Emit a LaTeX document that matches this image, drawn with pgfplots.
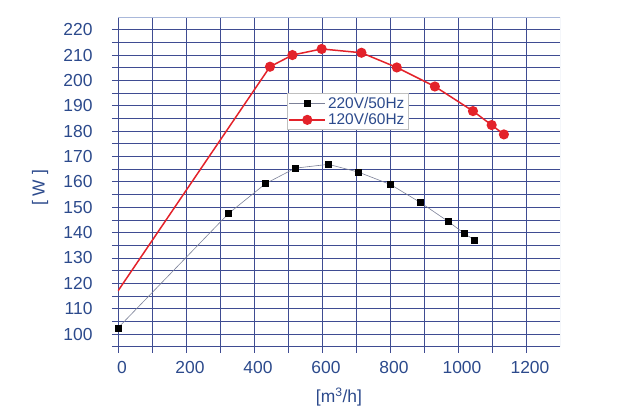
\documentclass[border=0pt]{standalone}
\usepackage{fontspec}
\setmainfont{Liberation Sans}
\usepackage{pgfplots}
\pgfplotsset{compat=1.18}
\definecolor{gridblue}{HTML}{3F4C92}
\definecolor{labelblue}{HTML}{2C4A8C}
\definecolor{curvered}{HTML}{E3222A}
\definecolor{curvegray}{HTML}{7C8198}
\definecolor{framelight}{HTML}{A9B8DA}

\begin{document}
\begin{tikzpicture}
\begin{axis}[
    scale only axis,
    width=442bp, height=329.7bp,
    xmin=0, xmax=1300, ymin=95, ymax=225,
    xtick={0,200,...,1200}, minor xtick={100,300,...,1100},
    ytick={100,110,...,220}, minor ytick={95,105,...,215},
    xtick pos=bottom, ytick pos=left,
    grid=both,
    major grid style={gridblue, line width=0.7bp},
    minor grid style={gridblue, line width=0.7bp},
    tick style={gridblue, line width=0.7bp},
    major tick length=6bp, minor tick length=6bp,
    tick align=outside,
    axis line style={draw=none},
    /pgf/number format/assume math mode=true,
    /pgf/number format/1000 sep={},
    ticklabel style={font=\fontsize{17.5}{18}\selectfont, text=labelblue},
    xticklabel style={xshift=4bp, yshift=-5bp},
    yticklabel style={xshift=-16bp},
    xlabel={[m\textsuperscript{3}/h]},
    ylabel={[ W ]},
    label style={font=\fontsize{17.5}{18}\selectfont, text=labelblue},
    xlabel style={at={(rel axis cs:0.5,0)}, anchor=center, yshift=-50bp},
    ylabel style={at={(rel axis cs:0,0.5)}, anchor=center, xshift=-6bp, yshift=78bp},
    legend style={at={(rel axis cs:0.382,0.769)}, anchor=north west,
      draw=black!25, fill=white, font=\fontsize{15.5}{16}\selectfont,
      text=labelblue, inner sep=1.5bp, row sep=0bp,
      nodes={inner xsep=2bp}},
    legend cell align=left,
    legend image code/.code={
      \draw[#1, mark=none] (0bp,0bp) -- (36bp,0bp);
      \draw[#1, only marks, mark indices={1}] plot coordinates {(18bp,0bp)};
    },
  ]
  \addplot[curvegray, line width=0.6bp, mark=square*,
    mark options={draw=black, fill=black, solid}, mark size=3bp]
    coordinates {
    (0,102.4) (325,147.5) (434,159.3) (521,165.4) (619,166.9)
    (708,163.8) (802,158.9) (890,151.8) (972,144.3) (1019,139.6)
    (1049,137.0)
  };
  \addlegendentry{220V/50Hz}
  \addplot[curvered, line width=1.5bp, mark=*,
    mark options={draw=curvered, fill=curvered}, mark size=4.3bp,
    mark indices={2,3,4,5,6,7,8,9,10}]
    coordinates {
    (0,117.0) (447,205.4) (513,210.0) (599,212.4) (716,210.9)
    (820,205.1) (932,197.6) (1044,187.9) (1099,182.4) (1135,178.7)
  };
  \addlegendentry{120V/60Hz}
  \draw[framelight, line width=0.9bp]
    (rel axis cs:0,1) -- (rel axis cs:1,1) -- (rel axis cs:1,0);
\end{axis}
\path[use as bounding box] (current axis.south west) ++(-118bp,-66.3bp)
  rectangle ++(631bp,413bp);
\end{tikzpicture}
\end{document}
